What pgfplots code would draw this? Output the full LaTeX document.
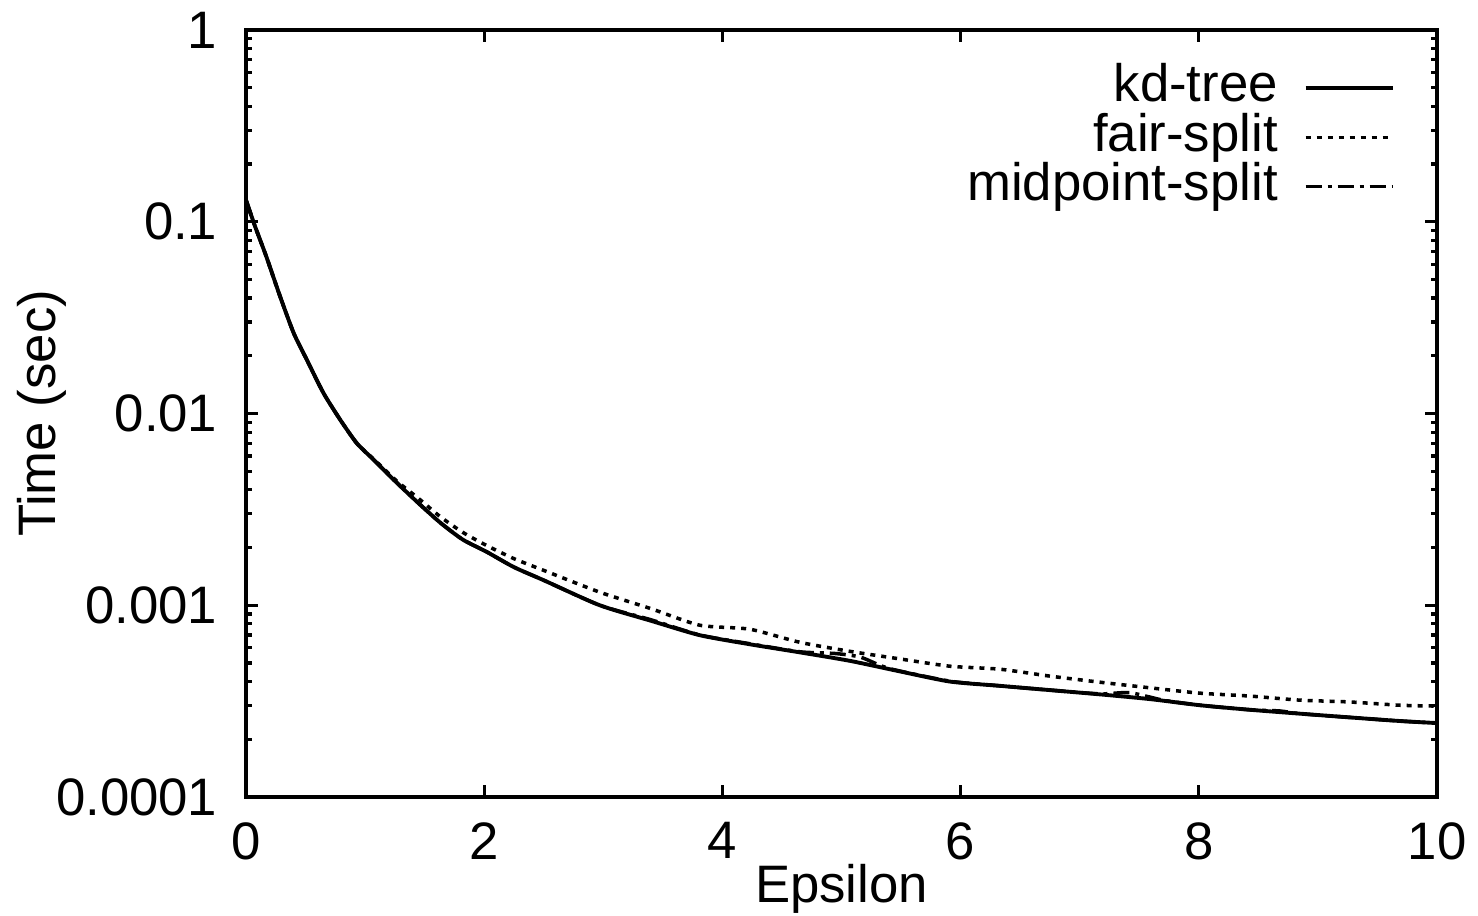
\documentclass[border=0pt]{standalone}
\usepackage{fontspec}
\setmainfont{Liberation Sans}
\usepackage{pgfplots}
\pgfplotsset{compat=1.18}

\pgfplotstableread{
x      kd
0.00   0.13
0.076  0.0946
0.17   0.066
0.285  0.041
0.40   0.0263
0.51   0.0191
0.65   0.0128
0.79   0.0093
0.93   0.0070
1.07   0.00575
1.265  0.00436
1.45   0.0034
1.63   0.0027
1.82   0.0022
2.02   0.0019
2.25   0.00158
2.50   0.00135
2.97   0.00100
3.40   0.00083
3.81   0.000698
4.23   0.000626
4.65   0.000568
5.07   0.000513
5.49   0.000452
5.91   0.000400
6.33   0.000380
6.75   0.000361
7.17   0.000343
7.59   0.000324
8.01   0.000301
8.43   0.000285
8.85   0.000272
9.27   0.000260
9.69   0.000249
10.0   0.000243
}\kdtree

\pgfplotstableread{
x      t
0.00   0.13
0.076  0.0946
0.17   0.066
0.285  0.041
0.40   0.0263
0.51   0.0191
0.65   0.0128
0.79   0.0093
0.93   0.0070
1.07   0.00580
1.265  0.00445
1.45   0.0036
1.63   0.0029
1.82   0.0024
2.02   0.00205
2.25   0.00175
2.50   0.00152
2.97   0.00117
3.40   0.00096
3.81   0.000787
4.23   0.000750
4.65   0.000641
5.07   0.000575
5.49   0.000525
5.91   0.000481
6.33   0.000464
6.75   0.000427
7.17   0.000397
7.59   0.000371
8.01   0.000348
8.43   0.000336
8.85   0.000320
9.27   0.000313
9.69   0.000301
10.0   0.000298
}\fairsplit

\pgfplotstableread{
x      t
0.00   0.13
0.076  0.0946
0.17   0.066
0.285  0.041
0.40   0.0263
0.51   0.0191
0.65   0.0128
0.79   0.0093
0.93   0.0070
1.07   0.00575
1.265  0.00436
1.45   0.0034
1.63   0.0027
1.82   0.0022
2.02   0.0019
2.25   0.00158
2.50   0.00135
2.97   0.00100
3.40   0.00084
3.81   0.000700
4.23   0.000630
4.65   0.000572
4.95   0.000560
5.16   0.000536
5.40   0.000468
5.91   0.000402
6.33   0.000380
6.75   0.000361
7.17   0.000345
7.42   0.000350
7.70   0.000320
8.01   0.000301
8.43   0.000285
8.68   0.000281
8.85   0.000272
9.27   0.000260
9.69   0.000249
10.0   0.000243
}\midsplit

\begin{document}
\fontsize{15}{18}\selectfont
\begin{tikzpicture}
\begin{axis}[
  scale only axis, width=119.1mm, height=76.7mm,
  ymode=log, xmin=0, xmax=10, ymin=1e-4, ymax=1,
  xtick={0,2,4,6,8,10}, xticklabels={0,2,4,6,8,10},
  ytick={1e-4,1e-3,1e-2,1e-1,1},
  yticklabels={0.0001,0.001,0.01,0.1,1},
  tick align=inside,
  major tick length=1.2mm, minor tick length=0.6mm,
  axis line style={line width=1.1pt},
  every tick/.style={black, line width=0.9pt},
  xticklabel style={inner sep=0pt, anchor=north, yshift=-2.5mm},
  yticklabel style={inner sep=0pt, anchor=east, xshift=-2.8mm},
  xlabel={Epsilon}, ylabel={Time (sec)},
  xlabel style={at={(axis description cs:0.5,-0.138)}, anchor=base, inner sep=0pt},
  ylabel style={at={(axis description cs:-0.1713,0.5)}, anchor=center, inner sep=0pt},
  legend plot pos=right, legend cell align=right,
  legend image code/.code={\draw[#1] (0mm,0mm) -- (8.7mm,0mm);},
  legend style={draw=none, fill=none, at={(rel axis cs:0.965,0.957)}, anchor=north east,
    inner sep=0pt, row sep=0pt, column sep=2.6mm,
    nodes={inner sep=0pt, text height=10.9pt, text depth=3.1pt}},
  every axis plot/.append style={smooth, tension=0.4},
]
\coordinate (sw) at (rel axis cs:0,0);
\coordinate (ne) at (rel axis cs:1,1);
\addplot[black, line width=1.1pt] table[x=x, y=kd] {\kdtree};
\addlegendentry{kd-tree}
\addplot[black, line width=1pt, dash pattern=on 0.5mm off 0.6mm] table[x=x, y=t] {\fairsplit};
\addlegendentry{fair-split}
\addplot[black, line width=1pt, dash pattern=on 1.6mm off 0.6mm on 0.4mm off 0.6mm] table[x=x, y=t] {\midsplit};
\addlegendentry{midpoint-split}
\end{axis}
\pgfresetboundingbox
\path[use as bounding box] ([xshift=-24.6mm,yshift=-11.9mm]sw) rectangle ([xshift=4.1mm,yshift=3mm]ne);
\end{tikzpicture}
\end{document}
